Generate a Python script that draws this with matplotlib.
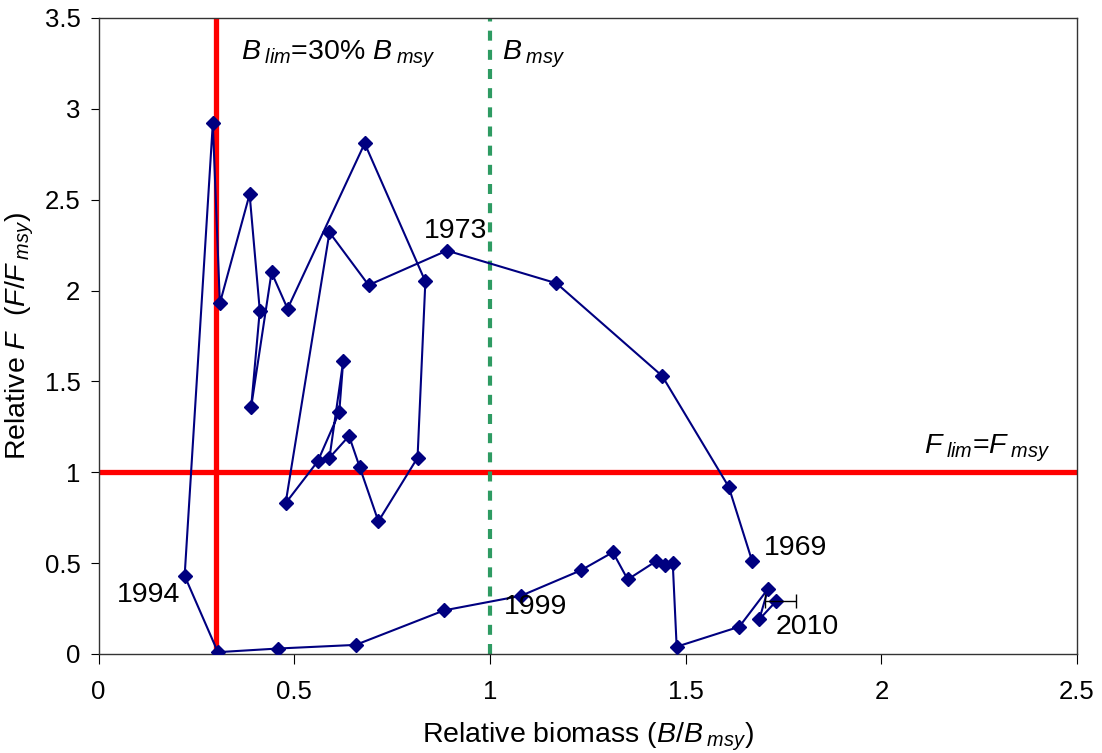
import matplotlib
matplotlib.use("Agg")
import matplotlib.pyplot as plt

# trajectory of relative biomass and fishing mortality, 1969-2010
years = list(range(1969, 2011))
rel_b = [1.67, 1.61, 1.44, 1.17, 0.89, 0.69, 0.59, 0.478, 0.56, 0.615,
         0.625, 0.59, 0.64, 0.667, 0.715, 0.815, 0.835, 0.68, 0.483, 0.442,
         0.39, 0.412, 0.386, 0.31, 0.292, 0.22, 0.305, 0.458, 0.657, 0.883,
         1.079, 1.232, 1.314, 1.352, 1.424, 1.446, 1.467, 1.477, 1.637, 1.711,
         1.688, 1.731]
rel_f = [0.51, 0.92, 1.53, 2.04, 2.22, 2.03, 2.32, 0.83, 1.06, 1.33,
         1.61, 1.08, 1.20, 1.03, 0.73, 1.08, 2.05, 2.81, 1.90, 2.10,
         1.36, 1.89, 2.53, 1.93, 2.92, 0.43, 0.01, 0.03, 0.05, 0.24,
         0.32, 0.46, 0.56, 0.41, 0.51, 0.49, 0.50, 0.04, 0.15, 0.36,
         0.19, 0.29]
err_lo = 0.028   # 2010 biomass uncertainty
err_hi = 0.05
b_lim = 0.3
b_msy = 1.0
f_lim = 1.0
# year labels: where the text sits and how it is aligned
year_lab = {1969: (1.70, 0.585, 'left'), 1973: (0.912, 2.33, 'center'),
            1994: (0.208, 0.325, 'right'), 1999: (1.036, 0.26, 'left'),
            2010: (1.73, 0.15, 'left')}

plt.rcParams['font.family'] = ['Liberation Sans', 'DejaVu Sans']
plt.rcParams['mathtext.fontset'] = 'custom'
plt.rcParams['mathtext.rm'] = 'Liberation Sans'
plt.rcParams['mathtext.it'] = 'Liberation Sans:italic'

fig = plt.figure(figsize=(11.02, 7.53), dpi=100)
ax = fig.add_axes([0.0894, 0.1315, 0.888, 0.8446])

ax.axvline(b_lim, color='#ff0000', lw=3.8, zorder=2)
ax.axhline(f_lim, color='#ff0000', lw=3.8, zorder=2)
ax.axvline(b_msy, color='#2e9b62', lw=3, ls=(0, (2.4, 2.2)), zorder=2)

ax.plot(rel_b, rel_f, color='#000080', lw=1.5, marker='D', ms=7.2,
        mfc='#000080', mec='#000080', zorder=3)
ax.errorbar([rel_b[-1]], [rel_f[-1]], xerr=[[err_lo], [err_hi]], fmt='none',
            ecolor='black', elinewidth=1, capsize=5, zorder=4)

for y, (tx, ty, ha) in year_lab.items():
    ax.text(tx, ty, str(y), fontsize=20.5, ha=ha, va='center')

ax.text(0.365, 3.3, r'$B_{\;lim}$=30% $B_{\;msy}$', fontsize=20.5, va='center')
ax.text(1.03, 3.3, r'$B_{\;msy}$', fontsize=20.5, va='center')
ax.text(2.11, 1.13, r'$F_{\;lim}$=$F_{\;msy}$', fontsize=20.5, va='center')

ax.set_xlim(0, 2.5)
ax.set_ylim(0, 3.5)
ax.set_xticks([0, 0.5, 1, 1.5, 2, 2.5])
ax.set_xticklabels(['0', '0.5', '1', '1.5', '2', '2.5'])
ax.set_yticks([0, 0.5, 1, 1.5, 2, 2.5, 3, 3.5])
ax.set_yticklabels(['0', '0.5', '1', '1.5', '2', '2.5', '3', '3.5'])
ax.tick_params(axis='x', direction='out', length=7, pad=12, labelsize=18.5)
ax.tick_params(axis='y', direction='out', length=6, pad=7, labelsize=18.5)
for s in ax.spines.values():
    s.set_color('#333333')
    s.set_linewidth(1)

ax.set_xlabel(r'Relative biomass ($B$/$B_{\;msy}$)', fontsize=20.5, labelpad=12)
ax.set_ylabel(r'Relative $F$  ($F$/$F_{\;msy}$)', fontsize=20.5, labelpad=6)

fig.savefig('out.png', dpi=100)
